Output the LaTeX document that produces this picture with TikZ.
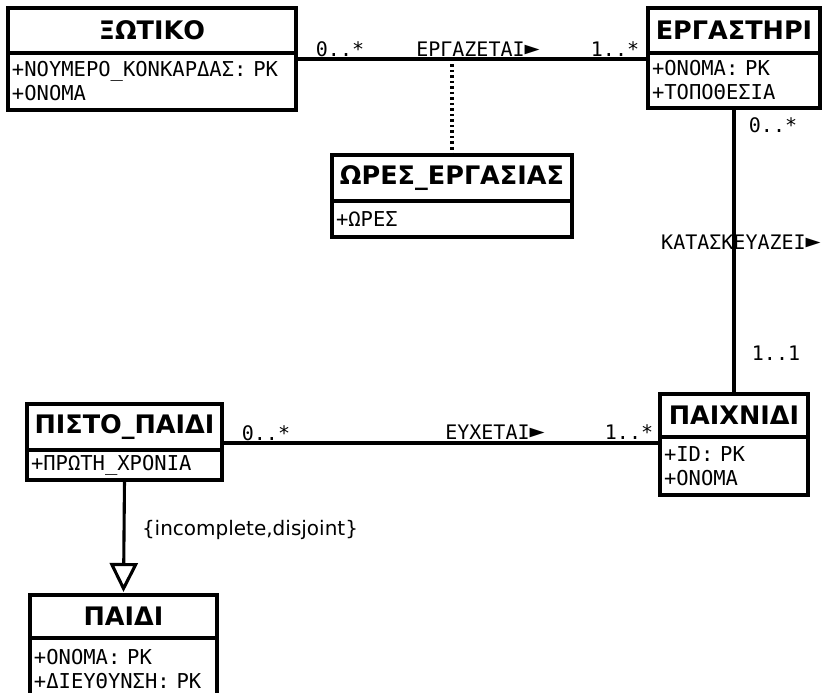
\documentclass[tikz,border=0pt]{standalone}
\usepackage{fontspec}
\setmainfont{DejaVu Sans}
\newfontfamily\monofam{DejaVu Sans Mono}
\usetikzlibrary{arrows.meta}

% font shortcuts
\newcommand{\titlefont}{\fontsize{25.5pt}{30pt}\selectfont\bfseries}
\newcommand{\attrfont}{\monofam\fontsize{20.5pt}{24pt}\selectfont}
\newcommand{\labfont}{\monofam\fontsize{20pt}{24pt}\selectfont}
\newcommand{\dirmark}{\scalebox{1.25}{►}}

\tikzset{
  classhead/.style={draw, line width=3.4pt, anchor=north west, inner sep=0pt, outer sep=0pt,
                    font=\titlefont},
  classbody/.style={draw, line width=3.4pt, anchor=north west, inner xsep=4pt, inner ysep=0pt,
                    outer sep=0pt, align=left, font=\attrfont},
  assoc/.style={line width=3.1pt},
  linkdots/.style={line width=3.1pt, dash pattern=on 2.5pt off 3pt},
  lab/.style={inner sep=0pt, font=\labfont},
  constraint/.style={inner sep=0pt, font=\fontsize{20pt}{24pt}\selectfont},
  genarrow/.style={line width=3.1pt, -{Triangle[open, length=29pt, width=28pt, fill=white]}}
}

\begin{document}
\begin{tikzpicture}[x=1pt, y=-1pt]
\useasboundingbox (0,0) rectangle (823,693);
\clip (0,0) rectangle (823,693);

% classes
\node[classhead, minimum width=288pt, minimum height=45pt] (xotH) at (8,8) {ΞΩΤΙΚΟ};
\node[classbody, text width=280pt, minimum height=57pt] (xotB) at (xotH.south west)
  {+ΝΟΥΜΕΡΟ\_ΚΟΝΚΑΡΔΑΣ: PK\\+ΟΝΟΜΑ};

\node[classhead, minimum width=172pt, minimum height=45pt] (ergH) at (648,8) {ΕΡΓΑΣΤΗΡΙ};
\node[classbody, text width=164pt, minimum height=55pt] (ergB) at (ergH.south west)
  {+ΟΝΟΜΑ: PK\\+ΤΟΠΟΘΕΣΙΑ};

\node[classhead, minimum width=240pt, minimum height=46pt] (oreH) at (332,155) {ΩΡΕΣ\_ΕΡΓΑΣΙΑΣ};
\node[classbody, text width=232pt, minimum height=36pt] (oreB) at (oreH.south west)
  {+ΩΡΕΣ};

\node[classhead, minimum width=148pt, minimum height=43pt] (paiH) at (660,394) {ΠΑΙΧΝΙΔΙ};
\node[classbody, text width=140pt, minimum height=58pt] (paiB) at (paiH.south west)
  {+ID: PK\\+ΟΝΟΜΑ};

\node[classhead, minimum width=195pt, minimum height=46pt] (pisH) at (27,404) {ΠΙΣΤΟ\_ΠΑΙΔΙ};
\node[classbody, text width=187pt, minimum height=30pt] (pisB) at (pisH.south west)
  {+ΠΡΩΤΗ\_ΧΡΟΝΙΑ};

\node[classhead, minimum width=187pt, minimum height=43pt] (kidH) at (30,595) {ΠΑΙΔΙ};
\node[classbody, text width=179pt, minimum height=62pt] (kidB) at (kidH.south west)
  {+ΟΝΟΜΑ: PK\\+ΔΙΕΥΘΥΝΣΗ: PK};
% the box runs on past the lower edge
\draw[line width=3.4pt] (kidB.south west) -- ++(0,-30) (kidB.south east) -- ++(0,-30);

% association ΞΩΤΙΚΟ -- ΕΡΓΑΣΤΗΡΙ with its class link
\coordinate (worksY) at (0,59);
\coordinate (worksMid) at (oreH.north |- worksY);
\draw[assoc] (xotB.east |- worksY) -- (ergB.west |- worksY);
\draw[linkdots] (worksMid) -- (oreH.north);
\node[lab] (w1) at (340,49) {0..*};
\node[lab] (w2) at (478,49) {ΕΡΓΑΖΕΤΑΙ\dirmark};
\node[lab] (w3) at (615,49) {1..*};

% association ΕΡΓΑΣΤΗΡΙ -- ΠΑΙΧΝΙΔΙ
\draw[assoc] (ergB.south) -- (paiH.north);
\node[lab] (m1) at (773,125) {0..*};
\node[lab] (m2) at (741,242) {ΚΑΤΑΣΚΕΥΑΖΕΙ\dirmark};
\node[lab] (m3) at (776,353) {1..1};

% association ΠΙΣΤΟ_ΠΑΙΔΙ -- ΠΑΙΧΝΙΔΙ
\coordinate (wishY) at (0,443);
\draw[assoc] (pisH.east |- wishY) -- (paiB.west |- wishY);
\node[lab] (e1) at (266,433) {0..*};
\node[lab] (e2) at (495,432) {ΕΥΧΕΤΑΙ\dirmark};
\node[lab] (e3) at (629,432) {1..*};

% generalisation
\draw[genarrow] (pisB.south) -- ([yshift=3pt]kidH.north);
\node[constraint] (gen) at (250,530) {\{incomplete,disjoint\}};
\end{tikzpicture}
\end{document}
